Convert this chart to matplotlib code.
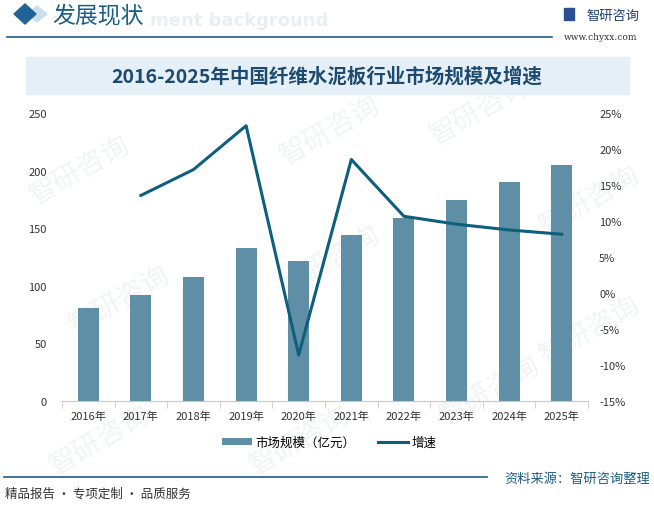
import numpy as np
import matplotlib.pyplot as plt
from matplotlib.patches import Polygon, Rectangle

plt.rcParams['font.family'] = ['Noto Sans CJK SC', 'DejaVu Sans']

# data
years = ['2016年', '2017年', '2018年', '2019年', '2020年',
         '2021年', '2022年', '2023年', '2024年', '2025年']
market_size = [81, 92.3, 108, 133.3, 122, 144, 159.4, 175, 190, 205.6]   # 亿元
growth = [np.nan, 13.6, 17.2, 23.3, -8.6, 18.6, 10.7, 9.6, 8.8, 8.2]     # %

bar_color = '#5f8fa6'
line_color = '#0e5f7e'
dark_blue = '#1b5e86'

fig = plt.figure(figsize=(6.54, 5.06), dpi=100)
W, H = 654, 506

def fx(px):
    return px / W

def fy(py):
    return 1 - py / H

# faint watermarks behind everything
for (wx, wy) in [(80, 170), (120, 300), (330, 130), (330, 260), (480, 110), (490, 390), (300, 440), (100, 440), (590, 200), (590, 330)]:
    fig.text(fx(wx), fy(wy), '智研咨询', fontsize=20, color='#f1f4f7', rotation=30,
             ha='center', va='center', zorder=-5)

# header
fig.patches.append(Polygon([(fx(37), fy(7)), (fx(47), fy(15)), (fx(37), fy(23)), (fx(27), fy(15))],
                           closed=True, transform=fig.transFigure, color='#cddfec', zorder=1))
fig.patches.append(Polygon([(fx(25), fy(5)), (fx(36), fy(15)), (fx(25), fy(25)), (fx(14), fy(15))],
                           closed=True, transform=fig.transFigure, color='#1f6398', zorder=2))
fig.text(fx(150), fy(21), 'ment background', fontsize=13, color='#e8eef4', fontweight='bold',
         ha='left', va='center', family='DejaVu Sans', zorder=-4)
fig.text(fx(52), fy(16), '发展现状', fontsize=16.5, color=dark_blue, ha='left', va='center')
fig.add_artist(plt.Line2D([fx(7), fx(552)], [fy(38), fy(38)], color=dark_blue, lw=1.2))
fig.patches.append(Rectangle((fx(564), fy(21)), fx(10), 12 / H, transform=fig.transFigure,
                             color='#2a4f8f'))
fig.text(fx(586), fy(16), '智研咨询', fontsize=9.5, color='#1f3f73', ha='left', va='center')
fig.text(fx(601), fy(37), 'www.chyxx.com', fontsize=6.5, color='#333333', ha='center', va='center',
         family='DejaVu Serif')

# title banner
fig.patches.append(Rectangle((fx(26), fy(95)), fx(603), 37 / H, transform=fig.transFigure,
                             color='#e4eff7', zorder=1))
fig.text(fx(327), fy(77), '2016-2025年中国纤维水泥板行业市场规模及增速', fontsize=14,
         fontweight='bold', color='#1d4a6e', ha='center', va='center')

# chart
ax = fig.add_axes([fx(62), fy(402), fx(588 - 62), (402 - 114.5) / H])
x = np.arange(len(years))
ax.bar(x, market_size, width=0.4, color=bar_color, label='市场规模（亿元）', zorder=2)
ax.set_xlim(-0.5, len(years) - 0.5)
ax.set_ylim(0, 250)
ax.set_yticks(range(0, 251, 50))
ax.set_xticks(x)
ax.set_xticklabels(years)
ax.set_xticks(np.arange(-0.5, len(years), 1), minor=True)
ax.tick_params(axis='x', which='major', length=0, labelsize=8, pad=7, colors='#333333')
ax.tick_params(axis='x', which='minor', length=5, color='#c8c8c8')
ax.tick_params(axis='y', length=0, labelsize=8, colors='#333333', pad=11)
for s in ['top', 'right', 'left']:
    ax.spines[s].set_visible(False)
ax.spines['bottom'].set_color('#c8c8c8')
ax.patch.set_alpha(0)

ax2 = ax.twinx()
ax2.plot(x, growth, color=line_color, lw=2.2, label='增速', zorder=3)
ax2.set_ylim(-15, 25)
ax2.set_yticks(range(-15, 26, 5))
ax2.set_yticklabels(['%d%%' % v for v in range(-15, 26, 5)])
ax2.tick_params(axis='y', length=0, labelsize=8, colors='#333333', pad=8)
for s in ['top', 'right', 'left', 'bottom']:
    ax2.spines[s].set_visible(False)

h1, l1 = ax.get_legend_handles_labels()
h2, l2 = ax2.get_legend_handles_labels()
fig.legend(h1 + h2, l1 + l2, loc='center', bbox_to_anchor=(fx(329), fy(443)), ncol=2,
           frameon=False, fontsize=9, handlelength=2.4, handleheight=0.5,
           columnspacing=1.8, handletextpad=0.3)

# footer
fig.add_artist(plt.Line2D([fx(4), fx(487)], [fy(478), fy(478)], color=dark_blue, lw=1.2))
fig.text(fx(650), fy(479), '资料来源：智研咨询整理', fontsize=9.5, color=dark_blue, ha='right', va='center')
fig.text(fx(5), fy(494), '精品报告 · 专项定制 · 品质服务', fontsize=9, color='#333333', ha='left', va='center')

fig.savefig('out.png', dpi=100)
